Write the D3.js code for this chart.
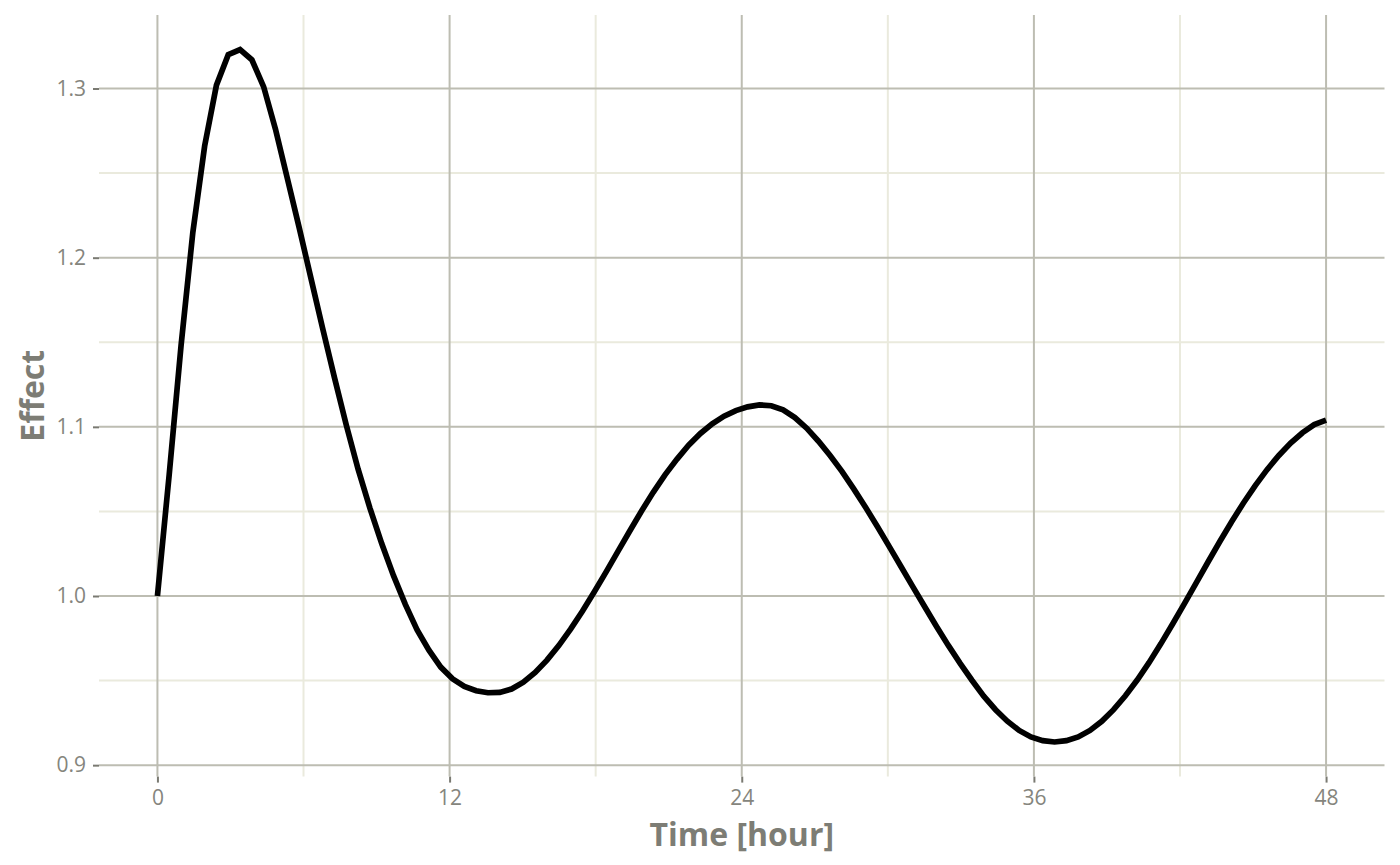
<!DOCTYPE html>
<html>
<head>
<meta charset="utf-8">
<script src="https://cdn.jsdelivr.net/npm/d3@7"></script>
<style>
  body { margin: 0; background: #fff; }
  text { font-family: "Open Sans", "Noto Sans", sans-serif; }
</style>
</head>
<body>
<div id="chart"></div>
<script>
// effect over time, sampled at 100 time points from 0 to 48 h
var timeStart = 0;
var timeEnd = 48;
var effect = [
  1.000, 1.072, 1.148, 1.215, 1.266, 1.302, 1.320, 1.323, 1.317, 1.301,
  1.276, 1.247, 1.218, 1.188, 1.158, 1.129, 1.101, 1.075, 1.052, 1.031,
  1.012, 0.995, 0.980, 0.968, 0.958, 0.951, 0.9465, 0.944, 0.9428, 0.9430,
  0.9450, 0.9490, 0.9548, 0.9621, 0.9707, 0.9804, 0.9910, 1.0023, 1.0141, 1.0262,
  1.0383, 1.0501, 1.0613, 1.0716, 1.0808, 1.0891, 1.0961, 1.1018, 1.1063, 1.1096,
  1.1118, 1.1130, 1.1125, 1.1100, 1.1055, 1.0992, 1.0915, 1.0829, 1.0735, 1.0632,
  1.0523, 1.0409, 1.0292, 1.0173, 1.0054, 0.9936, 0.9820, 0.9708, 0.9602, 0.9502,
  0.9408, 0.9328, 0.9260, 0.9205, 0.9167, 0.9145, 0.9137, 0.9145, 0.9167, 0.9205,
  0.9259, 0.9328, 0.9410, 0.9503, 0.9606, 0.9717, 0.9834, 0.9955, 1.0078, 1.0201,
  1.0322, 1.0439, 1.0550, 1.0653, 1.0747, 1.0831, 1.0904, 1.0965, 1.1013, 1.1040
];
var xTicks = [0, 12, 24, 36, 48];
var xMinorTicks = [6, 18, 30, 42];
var yTicks = [0.9, 1.0, 1.1, 1.2, 1.3];
var yMinorTicks = [0.95, 1.05, 1.15, 1.25];

var width = 1400;
var height = 865;
var panel = { left: 99, right: 1384.5, top: 15, bottom: 776.6 };

var step = (timeEnd - timeStart) / (effect.length - 1);
var data = effect.map(function(v, i) {
  return { time: timeStart + i * step, effect: v };
});

var svg = d3.select("#chart")
  .append("svg")
  .attr("width", width)
  .attr("height", height);

// ggplot-like 5% expansion on both axes
var xPad = (timeEnd - timeStart) * 0.05;
var yExt = d3.extent(effect);
var yPad = (yExt[1] - yExt[0]) * 0.05;

var x = d3.scaleLinear()
  .domain([timeStart - xPad, timeEnd + xPad])
  .range([panel.left, panel.right]);

var y = d3.scaleLinear()
  .domain([yExt[0] - yPad, yExt[1] + yPad])
  .range([panel.bottom, panel.top]);

var minorColor = "#eaeadd";
var majorColor = "#bdbdb2";
var textColor = "#85857d";

var grid = svg.append("g").attr("class", "grid");

grid.selectAll(".ymin").data(yMinorTicks).enter().append("line")
  .attr("x1", panel.left).attr("x2", panel.right)
  .attr("y1", function(d) { return y(d); })
  .attr("y2", function(d) { return y(d); })
  .attr("stroke", minorColor).attr("stroke-width", 2);

grid.selectAll(".xmin").data(xMinorTicks).enter().append("line")
  .attr("y1", panel.top).attr("y2", panel.bottom)
  .attr("x1", function(d) { return x(d); })
  .attr("x2", function(d) { return x(d); })
  .attr("stroke", minorColor).attr("stroke-width", 2);

grid.selectAll(".ymaj").data(yTicks).enter().append("line")
  .attr("x1", panel.left).attr("x2", panel.right)
  .attr("y1", function(d) { return y(d); })
  .attr("y2", function(d) { return y(d); })
  .attr("stroke", majorColor).attr("stroke-width", 2);

grid.selectAll(".xmaj").data(xTicks).enter().append("line")
  .attr("y1", panel.top).attr("y2", panel.bottom)
  .attr("x1", function(d) { return x(d); })
  .attr("x2", function(d) { return x(d); })
  .attr("stroke", majorColor).attr("stroke-width", 2);

// axes
var xAxis = svg.append("g")
  .attr("transform", "translate(0," + panel.bottom + ")")
  .call(d3.axisBottom(x).tickValues(xTicks).tickSize(6).tickPadding(7)
    .tickFormat(d3.format("d")));

var yAxis = svg.append("g")
  .attr("transform", "translate(" + panel.left + ",0)")
  .call(d3.axisLeft(y).tickValues(yTicks).tickSize(6).tickPadding(7)
    .tickFormat(d3.format(".1f")));

[xAxis, yAxis].forEach(function(a) {
  a.select(".domain").remove();
  a.selectAll(".tick line").attr("stroke", "#7a7a72").attr("stroke-width", 2);
  a.selectAll(".tick text")
    .attr("fill", textColor)
    .style("font-size", "21px")
    .style("font-family", "'Open Sans', 'Noto Sans', sans-serif");
});

// the effect curve
var line = d3.line()
  .x(function(d) { return x(d.time); })
  .y(function(d) { return y(d.effect); });

svg.append("path")
  .datum(data)
  .attr("fill", "none")
  .attr("stroke", "#000")
  .attr("stroke-width", 5.7)
  .attr("d", line);

// axis titles
svg.append("text")
  .attr("x", (panel.left + panel.right) / 2)
  .attr("y", 846)
  .attr("text-anchor", "middle")
  .attr("fill", "#7d7d75")
  .style("font-size", "32px")
  .style("font-weight", "bold")
  .text("Time [hour]");

svg.append("text")
  .attr("transform", "translate(44," + (panel.top + panel.bottom) / 2 + ")rotate(-90)")
  .attr("text-anchor", "middle")
  .attr("fill", "#7d7d75")
  .style("font-size", "32px")
  .style("font-weight", "bold")
  .text("Effect");
</script>
</body>
</html>
